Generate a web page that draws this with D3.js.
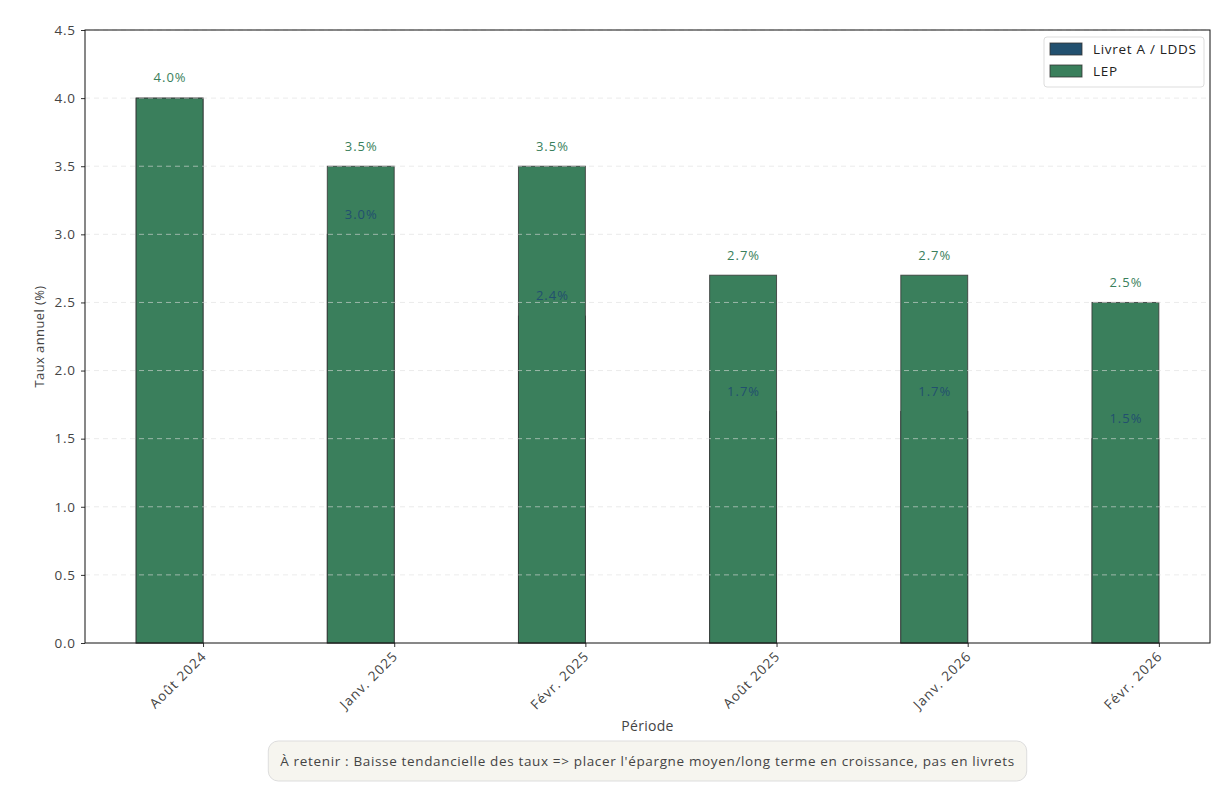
<!DOCTYPE html>
<html>
<head>
<meta charset="utf-8">
<script src="https://cdn.jsdelivr.net/npm/d3@7"></script>
<style>
  body { margin: 0; background: #fff; }
  text { font-family: "Open Sans", "Noto Sans", sans-serif; }
</style>
</head>
<body>
<div id="canvas"></div>
<script>
// data
const periods = ["Août 2024", "Janv. 2025", "Févr. 2025", "Août 2025", "Janv. 2026", "Févr. 2026"];
const livretA = [4.0, 3.0, 2.4, 1.7, 1.7, 1.5];
const lep = [4.0, 3.5, 3.5, 2.7, 2.7, 2.5];
const yTicks = [0, 0.5, 1, 1.5, 2, 2.5, 3, 3.5, 4, 4.5];
const seriesNames = ["Livret A / LDDS", "LEP"];
const note = "À retenir : Baisse tendancielle des taux => placer l'épargne moyen/long terme en croissance, pas en livrets";

const width = 1232, height = 788;
const margin = { top: 30, left: 85, bottom: 145, right: 22 };
const iwidth = width - margin.left - margin.right;
const iheight = height - margin.top - margin.bottom;

const blue = "#22506f", green = "#3a7f5c", ink = "#444";
const barW = 0.35;

const svg = d3.select("#canvas").append("svg")
  .attr("width", width).attr("height", height);
const g = svg.append("g").attr("transform", `translate(${margin.left},${margin.top})`);

// numeric x like matplotlib with 5% margins around the bars
const x = d3.scaleLinear()
  .domain([-barW - 0.2675, periods.length - 1 + 0.2675])
  .range([0, iwidth]);
const y = d3.scaleLinear().domain([0, 4.5]).range([iheight, 0]);

// bars: livret first, lep on top, same slot
const drawBars = (vals, color, cls) => {
  g.selectAll("rect." + cls).data(vals).enter().append("rect")
    .attr("class", cls)
    .attr("x", (d, i) => x(i - barW))
    .attr("y", d => y(d))
    .attr("width", (d, i) => x(i) - x(i - barW))
    .attr("height", d => iheight - y(d))
    .attr("fill", color)
    .attr("stroke", "#333")
    .attr("stroke-opacity", 0.8)
    .attr("stroke-width", 1);
};
drawBars(livretA, blue, "livret");
drawBars(lep, green, "lep");

// grid over bars
g.append("g").selectAll("line").data(yTicks.slice(1)).enter().append("line")
  .attr("x1", 0).attr("x2", iwidth)
  .attr("y1", d => y(d)).attr("y2", d => y(d))
  .attr("stroke", "#ddd").attr("stroke-opacity", 0.6)
  .attr("stroke-dasharray", "5,4");

// value labels (livret label hidden where it sits under the same lep label)
const drawLabels = (vals, color, skip) => {
  g.append("g").selectAll("text").data(vals.map((v, i) => [v, i]).filter(([v, i]) => !skip || v !== lep[i]))
    .enter().append("text")
    .attr("x", d => x(d[1] - barW / 2) + 0.5)
    .attr("y", d => y(d[0] + 0.1) - 2)
    .attr("text-anchor", "middle")
    .attr("font-size", 13)
    .style("letter-spacing", "1px")
    .attr("fill", color)
    .text(d => d[0].toFixed(1) + "%");
};
drawLabels(livretA, blue, true);
drawLabels(lep, green, false);

// axes
const yAxis = g.append("g")
  .call(d3.axisLeft(y).tickValues(yTicks).tickFormat(d3.format(".1f")).tickSize(4).tickPadding(6));
const xAxis = g.append("g")
  .attr("transform", `translate(0,${iheight})`)
  .call(d3.axisBottom(x).tickValues(d3.range(periods.length)).tickFormat(i => periods[i]).tickSize(4));
[yAxis, xAxis].forEach(a => {
  a.select(".domain").remove();
  a.selectAll("line").attr("stroke", "#333");
  a.selectAll("text").attr("fill", ink).attr("font-size", 13.5)
    .style("font-family", "'Open Sans', sans-serif").style("letter-spacing", "0.8px");
});
yAxis.selectAll("text").attr("dx", "0.8");
xAxis.selectAll("text")
  .style("letter-spacing", "1.1px")
  .attr("text-anchor", "end")
  .attr("dy", null).attr("y", 0)
  .attr("transform", "translate(4,14) rotate(-45)");

// frame
g.append("rect").attr("width", iwidth).attr("height", iheight)
  .attr("fill", "none").attr("stroke", "#111").attr("stroke-width", 1);

// axis titles
svg.append("text")
  .attr("transform", `translate(44,${margin.top + iheight / 2}) rotate(-90)`)
  .attr("text-anchor", "middle").attr("font-size", 13).attr("fill", ink)
  .style("letter-spacing", "0.4px")
  .text("Taux annuel (%)");
svg.append("text")
  .attr("x", margin.left + iwidth / 2).attr("y", 731)
  .attr("text-anchor", "middle").attr("font-size", 14).attr("fill", ink)
  .style("letter-spacing", "0.3px")
  .text("Période");

// legend
const lg = svg.append("g").attr("transform", `translate(1044,37)`);
lg.append("rect").attr("width", 160).attr("height", 50).attr("rx", 3)
  .attr("fill", "#fff").attr("fill-opacity", 0.8).attr("stroke", "#ddd");
[blue, green].forEach((c, i) => {
  lg.append("rect").attr("x", 6).attr("y", 6 + i * 22).attr("width", 32).attr("height", 12)
    .attr("fill", c).attr("stroke", "#333").attr("stroke-opacity", 0.8);
  lg.append("text").attr("x", 49).attr("y", 17 + i * 22)
    .attr("font-size", 13.5).attr("fill", "#222")
    .style("letter-spacing", "0.7px")
    .text(seriesNames[i]);
});

// takeaway box
const nb = svg.append("g");
const nt = nb.append("text")
  .attr("x", margin.left + iwidth / 2).attr("y", 766)
  .attr("text-anchor", "middle").attr("font-size", 13.5).attr("fill", ink)
  .style("letter-spacing", "0.65px")
  .text(note);
const bb = nt.node().getBBox();
nb.insert("rect", "text")
  .attr("x", bb.x - 12).attr("y", 741).attr("width", bb.width + 24).attr("height", 40)
  .attr("rx", 10).attr("fill", "#f6f5ef").attr("stroke", "#ddd");
</script>
</body>
</html>
